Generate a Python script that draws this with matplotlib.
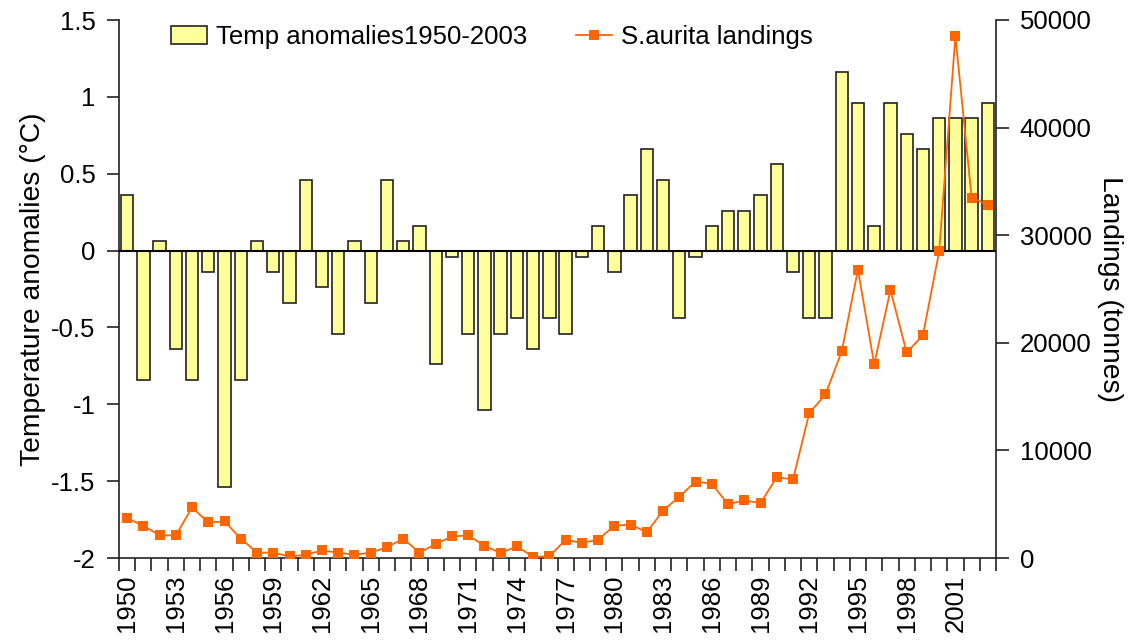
import matplotlib
matplotlib.use("Agg")
import matplotlib.pyplot as plt
from matplotlib.ticker import FixedLocator, FuncFormatter, NullFormatter

plt.rcParams['font.family'] = ['Liberation Sans', 'DejaVu Sans']
plt.rcParams['axes.unicode_minus'] = False

years = list(range(1950, 2004))

temp_anomaly = [
    0.36, -0.84, 0.06, -0.64, -0.84, -0.14, -1.54, -0.84, 0.06, -0.14,
    -0.34, 0.46, -0.24, -0.54, 0.06, -0.34, 0.46, 0.06, 0.16, -0.74,
    -0.04, -0.54, -1.04, -0.54, -0.44, -0.64, -0.44, -0.54, -0.04, 0.16,
    -0.14, 0.36, 0.66, 0.46, -0.44, -0.04, 0.16, 0.26, 0.26, 0.36,
    0.56, -0.14, -0.44, -0.44, 1.16, 0.96, 0.16, 0.96, 0.76, 0.66,
    0.86, 0.86, 0.86, 0.96,
]

landings = [
    3700, 3000, 2100, 2100, 4700, 3300, 3400, 1800, 500, 500,
    150, 300, 700, 500, 300, 500, 1000, 1800, 500, 1300,
    2000, 2100, 1150, 450, 1100, 100, 150, 1700, 1400, 1700,
    3000, 3100, 2400, 4400, 5700, 7100, 6900, 5000, 5350, 5100,
    7500, 7300, 13450, 15200, 19200, 26800, 18000, 24900, 19100, 20700,
    28500, 48500, 33500, 32800,
]

bar_label = "Temp anomalies1950-2003"
line_label = "S.aurita landings"
left_title = "Temperature anomalies (°C)"
right_title = "Landings (tonnes)"

FS = 18.5
TITLE_FS = 20.3

fig = plt.figure(figsize=(11.3, 6.4), dpi=100)
ax = fig.add_axes([119 / 1130, 82 / 640, 877 / 1130, 538 / 640])
ax2 = ax.twinx()

x = list(range(len(years)))

# temperature anomaly bars
bars = ax.bar(x, temp_anomaly, width=0.76, color='#FFFF99',
              edgecolor='#222222', linewidth=1.2, zorder=2,
              label=bar_label)
ax.axhline(0, color='black', linewidth=1.5, zorder=3)

ax.set_xlim(-0.5, len(years) - 0.5)
ax.set_ylim(-2, 1.5)
ax.set_yticks([-2, -1.5, -1, -0.5, 0, 0.5, 1, 1.5])
ax.yaxis.set_major_formatter(FuncFormatter(lambda v, p: f"{v:g}"))

# ticks on category boundaries, year labels at every third category centre
ax.xaxis.set_major_locator(FixedLocator([i - 0.5 for i in range(len(years) + 1)]))
ax.xaxis.set_major_formatter(NullFormatter())
label_pos = [i for i in x if i % 3 == 0]
ax.set_xticks(label_pos, minor=True)
ax.set_xticklabels([str(years[i]) for i in label_pos], minor=True,
                   rotation=90, fontsize=FS)
ax.tick_params(axis='x', which='major', direction='out', length=9,
               width=1.2, color='#222222')
ax.tick_params(axis='x', which='minor', length=0, pad=12)
ax.tick_params(axis='y', direction='out', length=9, width=1.2,
               color='#222222', labelsize=FS, pad=8)

ax.set_ylabel(left_title, fontsize=TITLE_FS, labelpad=3.5)

for side in ['top', 'right']:
    ax.spines[side].set_visible(False)
for side in ['left', 'bottom']:
    ax.spines[side].set_linewidth(1.2)
    ax.spines[side].set_color('#222222')

# landings line on secondary axis
line, = ax2.plot(x, landings, color='#FF6600', linewidth=1.3,
                 marker='s', markersize=7, markeredgewidth=0,
                 zorder=4, label=line_label)
ax2.set_ylim(0, 50000)
ax2.set_yticks(range(0, 50001, 10000))
ax2.yaxis.set_major_formatter(FuncFormatter(lambda v, p: f"{int(v)}"))
ax2.tick_params(axis='y', direction='out', length=9, width=1.2,
                color='#222222', labelsize=FS, pad=8)
ax2.set_ylabel(right_title, fontsize=TITLE_FS, rotation=270, labelpad=23)
for side in ['top', 'left', 'bottom']:
    ax2.spines[side].set_visible(False)
ax2.spines['right'].set_linewidth(1.2)
ax2.spines['right'].set_color('#222222')

leg = ax2.legend([bars, line], [bar_label, line_label], ncol=2,
                 frameon=False, fontsize=FS, loc='upper left',
                 bbox_to_anchor=(44 / 877, 1.005), borderaxespad=0.3,
                 borderpad=0, handlelength=1.4, handleheight=0.7,
                 handletextpad=0.35, columnspacing=1.9)

fig.savefig("out.png", dpi=100)
